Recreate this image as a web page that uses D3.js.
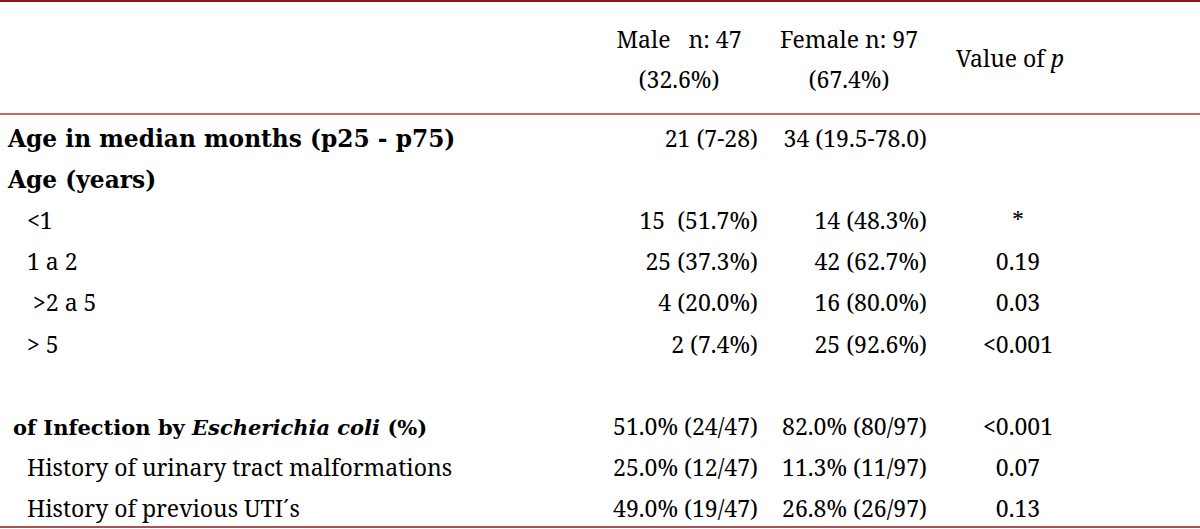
<!DOCTYPE html>
<html><head><meta charset="utf-8">
<script src="https://cdn.jsdelivr.net/npm/d3@7"></script>
<style>
html,body{margin:0;padding:0;background:#fff;}
text{font-family:"Noto Serif","Liberation Serif",serif;fill:#000;white-space:pre;}
text.bold{font-family:"DejaVu Serif",serif;font-weight:bold;}
</style></head>
<body>
<svg id="chart" width="1200" height="529"></svg>
<script>
const headerLines = [["Male   n: 47","(32.6%)"],["Female n: 97","(67.4%)"]];
const pHeader = "Value of ";
const rowLabels = ["Age in median months (p25 - p75)","Age (years)","<1","1 a 2"," >2 a 5","> 5","","of Infection by |Escherichia coli| (%)","History of urinary tract malformations","History of previous UTI´s"];
const rowLevel = [0,0,1,1,1,1,1,0,1,1];
const maleValues = ["21 (7-28)","","15  (51.7%)","25 (37.3%)","4 (20.0%)","2 (7.4%)","","51.0% (24/47)","25.0% (12/47)","49.0% (19/47)"];
const femaleValues = ["34 (19.5-78.0)","","14 (48.3%)","42 (62.7%)","16 (80.0%)","25 (92.6%)","","82.0% (80/97)","11.3% (11/97)","26.8% (26/97)"];
const pValues = ["","","*","0.19","0.03","<0.001","","<0.001","0.07","0.13"];

const svg = d3.select("#chart");
const FS = 23, FSB = 23.3, FSB2 = 21;
const y = d3.scaleLinear().domain([0, rowLabels.length-1]).range([147, 517]);
const colX = {labelHead: 8, labelSub: 27, labelBoldSub: 13, maleRight: 758, femaleRight: 927, pCenter: 1018};

// rules
svg.append("line").attr("x1",0).attr("x2",1200).attr("y1",1).attr("y2",1).attr("stroke","#8b1a1a").attr("stroke-width",2);
svg.append("line").attr("x1",0).attr("x2",1200).attr("y1",114).attr("y2",114).attr("stroke","#c0392b").attr("stroke-width",1.6);
svg.append("line").attr("x1",0).attr("x2",1200).attr("y1",527).attr("y2",527).attr("stroke","#8b1a1a").attr("stroke-width",1.4);

// header
const hx = [679, 849];
headerLines.forEach((lines,i)=>{
  lines.forEach((t,j)=>{
    svg.append("text").attr("x",hx[i]).attr("y",48+j*40).attr("text-anchor","middle").attr("font-size",FS).text(t);
  });
});
const ph = svg.append("text").attr("x",1010).attr("y",67).attr("text-anchor","middle").attr("font-size",FS);
ph.append("tspan").text(pHeader);
ph.append("tspan").attr("font-style","italic").text("p");

// rows
rowLabels.forEach((lab,i)=>{
  if(!lab) return;
  const bold = rowLevel[i]===0;
  const head = i===0||i===1;
  const x = bold ? (head ? colX.labelHead : colX.labelBoldSub) : colX.labelSub;
  const t = svg.append("text").attr("class",bold?"bold":null).attr("x",x).attr("y",y(i))
    .attr("font-size",bold?(head?FSB:FSB2):FS);
  lab.split("|").forEach((part,k)=>{
    t.append("tspan").attr("font-style",k===1?"italic":"normal").text(part);
  });
});
svg.selectAll("text.male").data(maleValues).join("text").attr("class","male")
  .attr("x",colX.maleRight).attr("y",(d,i)=>y(i)).attr("text-anchor","end").attr("font-size",FS).text(d=>d);
svg.selectAll("text.female").data(femaleValues).join("text").attr("class","female")
  .attr("x",colX.femaleRight).attr("y",(d,i)=>y(i)).attr("text-anchor","end").attr("font-size",FS).text(d=>d);
svg.selectAll("text.pval").data(pValues).join("text").attr("class","pval")
  .attr("x",colX.pCenter).attr("y",(d,i)=>y(i)).attr("text-anchor","middle").attr("font-size",FS).text(d=>d);
</script>
</body></html>
